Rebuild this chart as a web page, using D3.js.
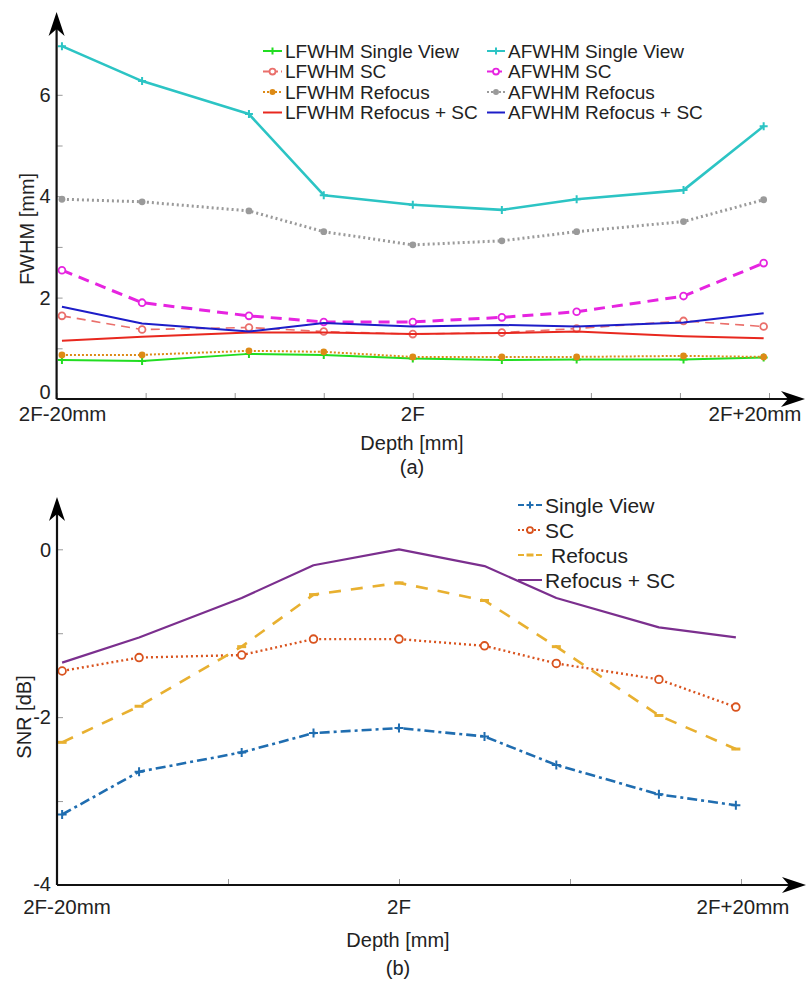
<!DOCTYPE html>
<html><head><meta charset="utf-8">
<script src="https://cdn.jsdelivr.net/npm/d3@7"></script>
<style>body{margin:0;background:#fff}svg{display:block}text{font-family:"Liberation Sans",Arial,sans-serif;fill:#222}</style>
</head><body>
<svg id="c" width="806" height="981"></svg>
<script>
// ---------- DATA ----------
const depths = [-19.7, -15.2, -9.2, -5, 0, 5, 9.2, 15.2, 19.7]; // mm relative to 2F
const xTickLabels = ["2F-20mm", "2F", "2F+20mm"];
const xTickLabelValues = [-20, 0, 20];

// (a) FWHM [mm]
const lfwhmSingle   = [0.77, 0.75, 0.89, 0.87, 0.80, 0.77, 0.78, 0.78, 0.82];
const lfwhmSC       = [1.64, 1.37, 1.41, 1.33, 1.28, 1.31, 1.39, 1.54, 1.43];
const lfwhmRefocus  = [0.87, 0.87, 0.95, 0.93, 0.83, 0.83, 0.83, 0.85, 0.83];
const lfwhmRefSC    = [1.15, 1.23, 1.31, 1.31, 1.28, 1.30, 1.33, 1.24, 1.20];
const afwhmSingle   = [6.96, 6.27, 5.62, 4.02, 3.83, 3.73, 3.94, 4.12, 5.38];
const afwhmSC       = [2.54, 1.90, 1.64, 1.52, 1.52, 1.61, 1.72, 2.03, 2.68];
const afwhmRefocus  = [3.94, 3.89, 3.71, 3.30, 3.04, 3.12, 3.30, 3.50, 3.93];
const afwhmRefSC    = [1.82, 1.49, 1.33, 1.50, 1.43, 1.46, 1.43, 1.51, 1.69];
const fwhmTicks = [0, 2, 4, 6];

// (b) SNR [dB]
const snrSingle  = [-3.16, -2.65, -2.42, -2.19, -2.13, -2.23, -2.57, -2.92, -3.05];
const snrSC      = [-1.45, -1.29, -1.26, -1.07, -1.07, -1.15, -1.36, -1.55, -1.88];
const snrRefocus = [-2.30, -1.87, -1.16, -0.54, -0.40, -0.61, -1.16, -1.98, -2.38];
const snrRefSC   = [-1.35, -1.05, -0.58, -0.19, 0.00, -0.20, -0.58, -0.93, -1.05];
const snrTicks = [-4, -2, 0];

// ---------- DRAW ----------
const svg = d3.select("#c");

const seriesA = [
  {name:"LFWHM Single View", v:lfwhmSingle, c:"#22dd22", dash:null, w:2, m:"plus"},
  {name:"LFWHM SC", v:lfwhmSC, c:"#ea6f6b", dash:"9,6", w:1.6, m:"circle"},
  {name:"LFWHM Refocus", v:lfwhmRefocus, c:"#dd8a16", dash:"2,2", w:2, m:"dot"},
  {name:"LFWHM Refocus + SC", v:lfwhmRefSC, c:"#e8281f", dash:null, w:2, m:null},
  {name:"AFWHM Single View", v:afwhmSingle, c:"#2cc4c4", dash:null, w:2.6, m:"plus"},
  {name:"AFWHM SC", v:afwhmSC, c:"#e624e0", dash:"11,7", w:3, m:"circle"},
  {name:"AFWHM Refocus", v:afwhmRefocus, c:"#9a9a9a", dash:"2,3", w:3, m:"dot"},
  {name:"AFWHM Refocus + SC", v:afwhmRefSC, c:"#1d1dc8", dash:null, w:2, m:null}
];
const seriesB = [
  {name:"Single View", v:snrSingle, c:"#1f6db0", dash:"10,4,3,4", w:2.6, m:"plus"},
  {name:"SC", v:snrSC, c:"#d9531e", dash:"2,3", w:2.4, m:"circle"},
  {name:"Refocus", v:snrRefocus, c:"#e8b030", dash:"12,10", w:2.6, m:"dash"},
  {name:"Refocus + SC", v:snrRefSC, c:"#7b2f8e", dash:null, w:2.2, m:null}
];

function marker(g, type, x, y, c, size) {
  const s = size || 4;
  if (type === "plus") {
    g.append("path").attr("d", `M${x-s},${y}H${x+s}M${x},${y-s}V${y+s}`).attr("stroke", c).attr("stroke-width", 2);
  } else if (type === "circle") {
    g.append("circle").attr("cx", x).attr("cy", y).attr("r", s*0.85).attr("fill", "#fff").attr("stroke", c).attr("stroke-width", 1.8);
  } else if (type === "dot") {
    g.append("circle").attr("cx", x).attr("cy", y).attr("r", s*0.85).attr("fill", c);
  } else if (type === "dash") {
    g.append("path").attr("d", `M${x-s},${y}H${x+s}`).attr("stroke", c).attr("stroke-width", 3);
  }
}

function arrowHead(g, x, y, dir) {
  let d;
  if (dir === "up") d = `M${x},${y} L${x+8},${y+24} L${x},${y+17} L${x-8},${y+24} Z`;
  else d = `M${x},${y} L${x-24},${y-8} L${x-17},${y} L${x-24},${y+8} Z`;
  g.append("path").attr("d", d).attr("fill", "#000");
}

function panel(cfg) {
  const g = svg.append("g");
  const x = d3.scaleLinear().domain([-20, 20]).range(cfg.xr);
  const y = d3.scaleLinear().domain(cfg.yd).range(cfg.yr);
  const x0 = cfg.xr[0], y0 = cfg.yr[0];

  const xAx = d3.axisTop(x).tickValues(cfg.xTicks).tickSize(6).tickFormat("");
  const gx = g.append("g").attr("transform", `translate(0,${y0})`).call(xAx);
  gx.select(".domain").remove();
  gx.selectAll(".tick line").attr("stroke", "#999").attr("stroke-width", 1);
  const yAx = d3.axisRight(y).tickValues(cfg.yMinor.concat(cfg.yTicks)).tickSize(6).tickFormat("");
  const gy = g.append("g").attr("transform", `translate(${x0},0)`).call(yAx);
  gy.select(".domain").remove();
  gy.selectAll(".tick line").attr("stroke", "#999").attr("stroke-width", 1);

  const line = d3.line().x((d, i) => x(depths[i])).y(d => y(d));
  cfg.series.forEach(s => {
    g.append("path").datum(s.v).attr("d", line).attr("fill", "none")
      .attr("stroke", s.c).attr("stroke-width", s.w)
      .attr("stroke-dasharray", s.dash).attr("stroke-linejoin", "round");
    if (s.m) s.v.forEach((v, i) => marker(g, s.m, x(depths[i]), y(v), s.c, cfg.ms));
  });

  g.append("line").attr("x1", x0).attr("x2", cfg.xEnd - 10).attr("y1", y0).attr("y2", y0).attr("stroke", "#111").attr("stroke-width", 2.2);
  g.append("line").attr("x1", x0).attr("x2", x0).attr("y1", y0).attr("y2", cfg.yEnd + 10).attr("stroke", "#111").attr("stroke-width", 2.2);
  arrowHead(g, cfg.xEnd, y0, "right");
  arrowHead(g, x0, cfg.yEnd, "up");

  cfg.yTicks.forEach((t, i) => {
    g.append("text").attr("x", x0 - 6).attr("y", y(t) + (i === 0 ? cfg.y0LabShift : 0)).attr("dy", "0.36em")
      .attr("text-anchor", "end").attr("font-size", 20).text(t);
  });
  xTickLabelValues.forEach((t, i) => {
    g.append("text").attr("x", x(t) + cfg.xLabShift[i]).attr("y", y0 + cfg.xLabDy)
      .attr("text-anchor", "middle").attr("font-size", 20.5).text(xTickLabels[i]);
  });
  g.append("text").attr("x", cfg.xTitle[0]).attr("y", cfg.xTitle[1]).attr("text-anchor", "middle").attr("font-size", 20).text("Depth [mm]");
  g.append("text").attr("x", cfg.xTitle[0]).attr("y", cfg.xTitle[1] + cfg.subDy).attr("text-anchor", "middle").attr("font-size", 20).text(cfg.sub);
  g.append("text").attr("transform", `translate(${cfg.yTitle[0]},${cfg.yTitle[1]}) rotate(-90)`)
    .attr("text-anchor", "middle").attr("font-size", 20).text(cfg.yLabel);
  return g;
}

panel({
  xr: [56.6, 769], yd: [0, 7], yr: [399, 399 - 7 * 50.7],
  xTicks: d3.range(-20, 21, 5), yTicks: fwhmTicks, yMinor: [1, 3, 5],
  series: seriesA, xEnd: 805, yEnd: 12, ms: 4,
  xLabShift: [6, 0, -14], xLabDy: 22, y0LabShift: -7,
  xTitle: [412, 450], subDy: 24, sub: "(a)", yTitle: [34, 229], yLabel: "FWHM [mm]"
});
panel({
  xr: [57, 741], yd: [-4, 0], yr: [885, 549.3],
  xTicks: d3.range(-20, 21, 10), yTicks: snrTicks, yMinor: [-3, -1],
  series: seriesB, xEnd: 806, yEnd: 497, ms: 4.5,
  xLabShift: [10, 0, 2], xLabDy: 29, y0LabShift: -1,
  xTitle: [398, 947], subDy: 28, sub: "(b)", yTitle: [31, 717], yLabel: "SNR [dB]"
});

function legend(items, x, y0, dy, sampleW, fs, extraShift) {
  const g = svg.append("g");
  items.forEach((s, i) => {
    const yy = y0 + i * dy;
    g.append("line").attr("x1", x).attr("x2", x + sampleW).attr("y1", yy).attr("y2", yy)
      .attr("stroke", s.c).attr("stroke-width", 2).attr("stroke-dasharray", s.dash ? (s.dash === "2,2" || s.dash === "2,3" ? "2,2" : "6,3") : null);
    if (s.m) marker(g, s.m, x + sampleW / 2, yy, s.c, 3.5);
    g.append("text").attr("x", x + sampleW + 3 + (extraShift ? extraShift[i] : 0)).attr("y", yy).attr("dy", "0.36em")
      .attr("font-size", fs).text(s.name);
  });
}
legend(seriesA.slice(0, 4), 263, 51, 20.5, 19, 19, null);
legend(seriesA.slice(4), 487, 51, 20.5, 18, 19, null);
legend(seriesB, 518, 505, 25, 24, 21, [0, 0, 6, 0]);
</script>
</body></html>
